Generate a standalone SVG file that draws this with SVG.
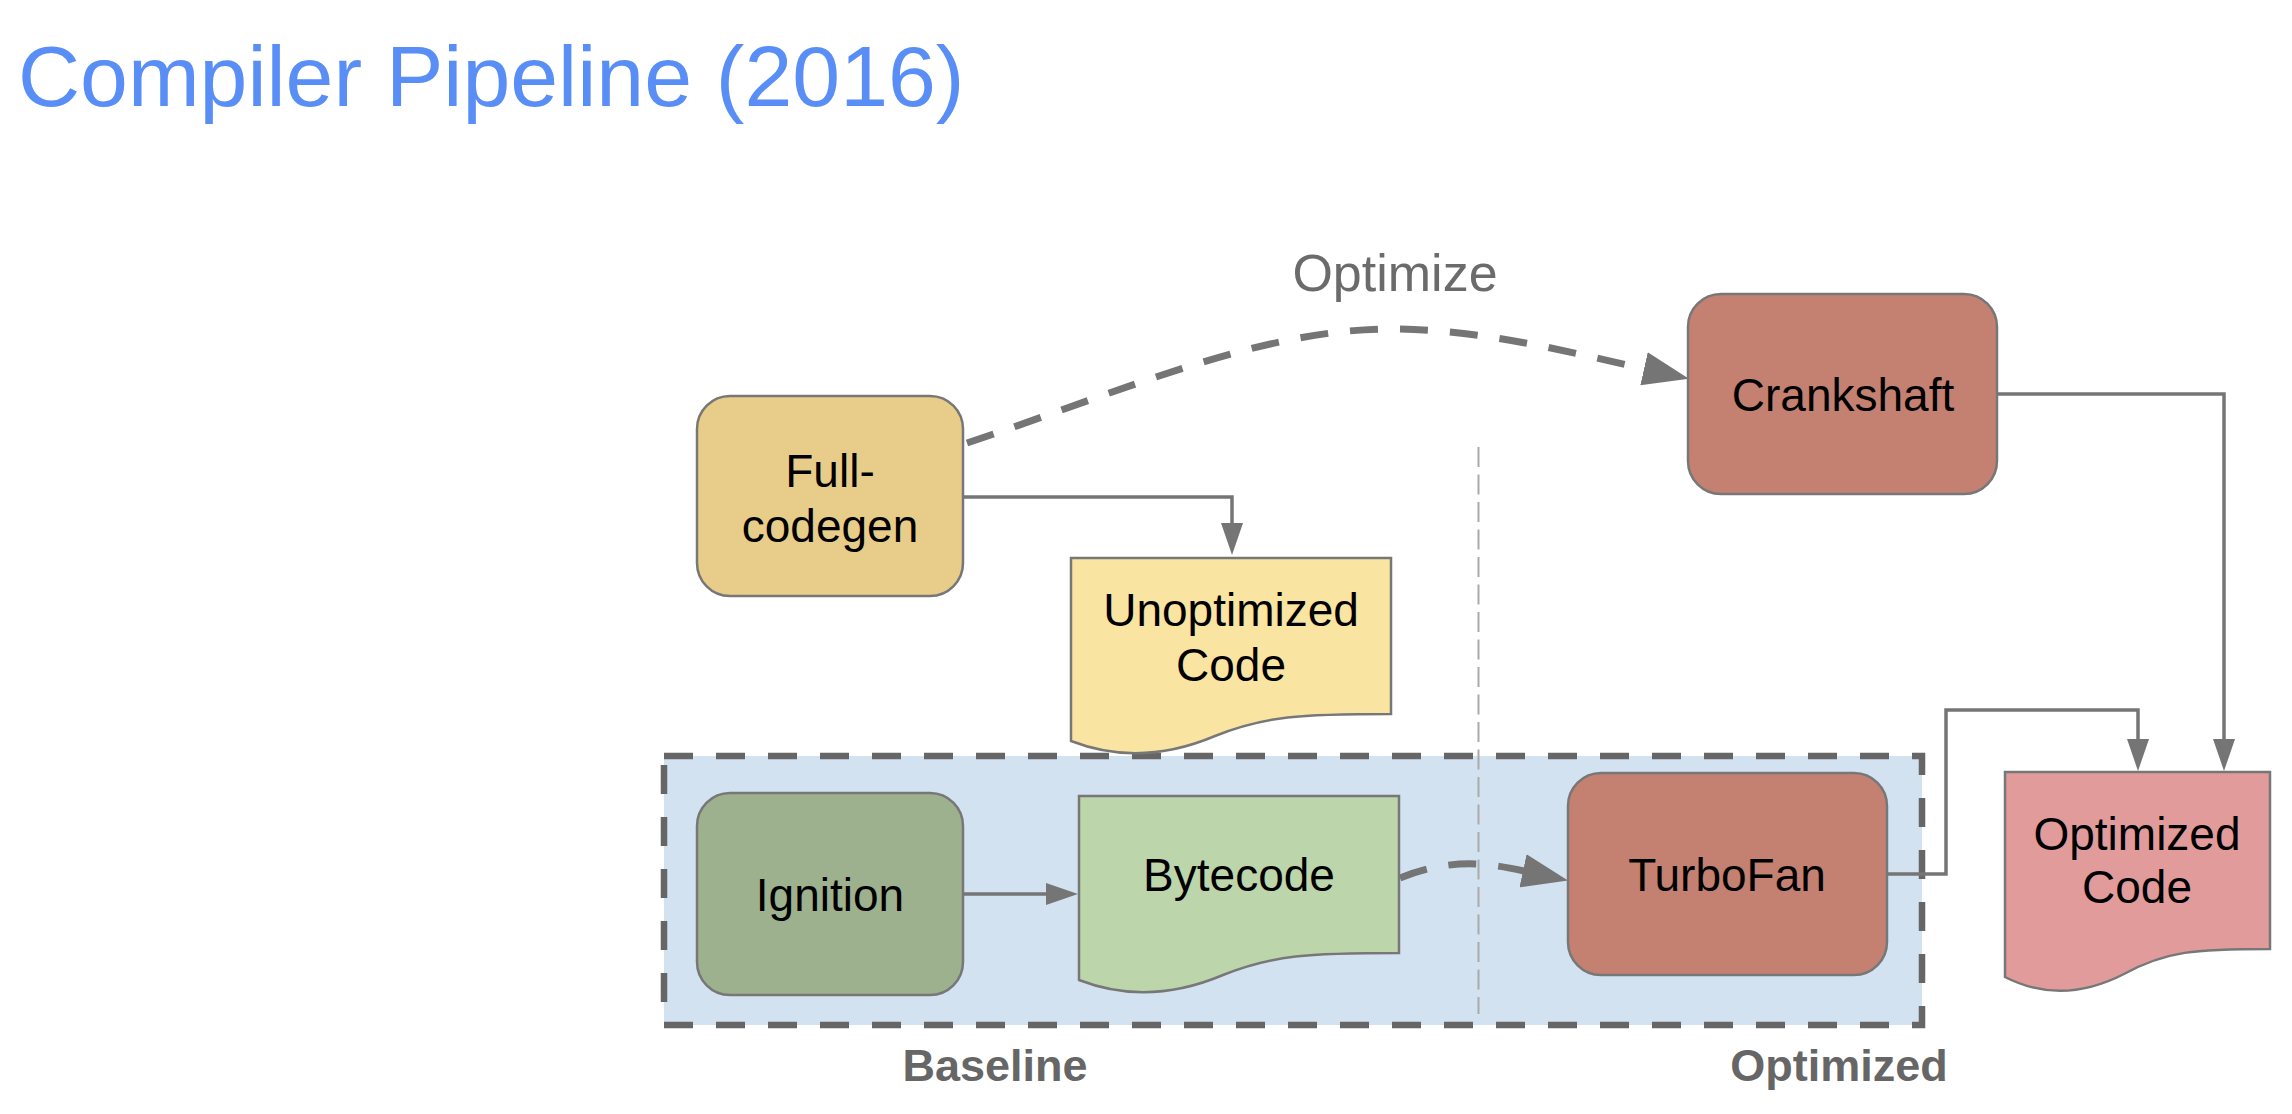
<svg xmlns="http://www.w3.org/2000/svg" width="2292" height="1114" viewBox="0 0 2292 1114">
<style>
  .lbl { font-family: "Liberation Sans", Arial, sans-serif; font-size: 46px; fill: #000; text-anchor: middle; }
  .box { stroke: #777; stroke-width: 2.5; }
  .conn { fill: none; stroke: #757575; stroke-width: 3.5; }
  .dconn { fill: none; stroke: #757575; stroke-width: 7; stroke-dasharray: 28 22; }
  .sect { font-family: "Liberation Sans", Arial, sans-serif; font-size: 45px; font-weight: bold; fill: #666; text-anchor: middle; }
</style>
<defs>
  <marker id="ah" viewBox="0 0 32 22" refX="1" refY="11" markerWidth="32" markerHeight="22" markerUnits="userSpaceOnUse" orient="auto">
    <path d="M0,0 L32,11 L0,22 Z" fill="#757575"/>
  </marker>
  <marker id="ahb" viewBox="0 0 46 34" refX="1" refY="17" markerWidth="46" markerHeight="34" markerUnits="userSpaceOnUse" orient="auto">
    <path d="M0,0 L46,17 L0,34 Z" fill="#757575"/>
  </marker>
</defs>
<rect width="2292" height="1114" fill="#fff"/>
<text x="18" y="106" font-family="'Liberation Sans', Arial, sans-serif" font-size="86" fill="#5a8ef7">Compiler Pipeline (2016)</text>

<g id="container">
  <rect x="664" y="756" width="1258" height="269" fill="#d3e2f1" stroke="#666" stroke-width="6.5" stroke-dasharray="29 23"/>
  <line x1="1478.5" y1="447" x2="1478.5" y2="1014" stroke="#aaa" stroke-width="2" stroke-dasharray="20 7.5"/>
  <text class="sect" x="995" y="1081">Baseline</text>
  <text class="sect" x="1839" y="1081">Optimized</text>
</g>

<g id="connectors">
  <path class="conn" d="M963,497 H1232 V524" marker-end="url(#ah)"/>
  <path class="conn" d="M963,894 H1047" marker-end="url(#ah)"/>
  <path class="conn" d="M1887,874 H1946 V710 H2138 V740" marker-end="url(#ah)"/>
  <path class="conn" d="M1997,394 H2224 V740" marker-end="url(#ah)"/>
  <path class="dconn" d="M967,443 C1120,392 1260,329 1390,329 C1480,329 1560,350 1645,369" marker-end="url(#ahb)"/>
  <text x="1395" y="291" font-family="'Liberation Sans', Arial, sans-serif" font-size="52" fill="#6b6b6b" text-anchor="middle">Optimize</text>
  <path class="dconn" d="M1400,878 C1430,866 1455,863 1478,864 C1495,865 1510,868 1524,871" marker-end="url(#ahb)"/>
</g>

<g id="fullcodegen">
  <rect class="box" x="697" y="396" width="266" height="200" rx="33" fill="#e8cd8a"/>
  <text class="lbl" x="830" y="487">Full-</text>
  <text class="lbl" x="830" y="542">codegen</text>
</g>

<g id="crankshaft">
  <rect class="box" x="1688" y="294" width="309" height="200" rx="33" fill="#c48171"/>
  <text class="lbl" x="1843" y="411">Crankshaft</text>
</g>

<g id="unoptimized">
  <path class="box" transform="translate(1071,558)" d="M0,0 H320 V156 C229,156 194,158 144,178 C99,197 49,202 0,183 Z" fill="#f9e4a1"/>
  <text class="lbl" x="1231" y="626">Unoptimized</text>
  <text class="lbl" x="1231" y="681">Code</text>
</g>

<g id="ignition">
  <rect class="box" x="697" y="793" width="266" height="202" rx="33" fill="#9db18f"/>
  <text class="lbl" x="830" y="911">Ignition</text>
</g>

<g id="bytecode">
  <path class="box" transform="translate(1079,796)" d="M0,0 H320 V157 C229,157 194,159 144,179 C99,198 49,203 0,184 Z" fill="#bdd5ab"/>
  <text class="lbl" x="1239" y="891">Bytecode</text>
</g>

<g id="turbofan">
  <rect class="box" x="1568" y="773" width="319" height="202" rx="33" fill="#c48171"/>
  <text class="lbl" x="1727" y="891">TurboFan</text>
</g>

<g id="optimizedcode">
  <path class="box" transform="translate(2005,772)" d="M0,0 H265 V177 C190,177 161,179 119,202 C82,221 41,226 0,205 Z" fill="#e09b9a"/>
  <text class="lbl" x="2137" y="850">Optimized</text>
  <text class="lbl" x="2137" y="903">Code</text>
</g>
</svg>
